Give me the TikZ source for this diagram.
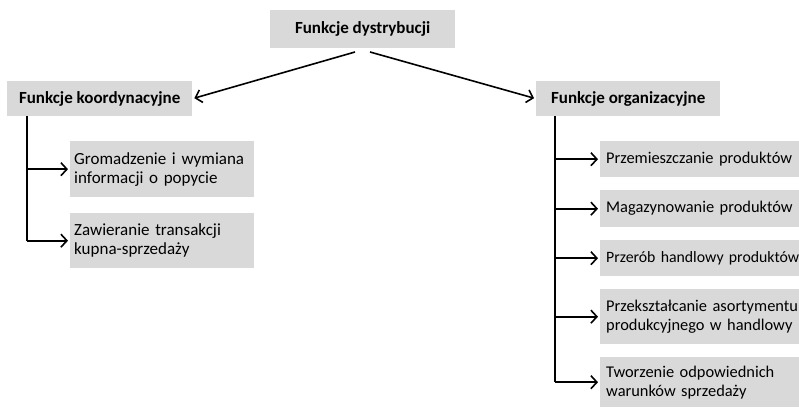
\documentclass[tikz,border=0pt]{standalone}
\usepackage{fontspec}
\setmainfont{Carlito}
\usetikzlibrary{arrows.meta}
\definecolor{boxgray}{HTML}{D9D9D9}
\hyphenpenalty=10000
\exhyphenpenalty=10000
\tikzset{
  box/.style={fill=boxgray, draw=none, anchor=north west, inner sep=0pt, font=\fontsize{17}{19}\selectfont},
  headbox/.style={box, font=\fontsize{17}{19}\selectfont\bfseries, align=center},
  childbox/.style={box, align=left, text width=#1},
  rchild/.style={childbox=240pt, inner xsep=6pt, font=\fontsize{16.4}{19}\selectfont},
  arr/.style={draw=black, line width=1.6pt, -{Straight Barb[length=6pt,width=13pt,line width=1.6pt]}},
  trunk/.style={draw=black, line width=1.6pt}
}
\begin{document}
\begin{tikzpicture}[x=1pt,y=-1pt]
\useasboundingbox (0,0) rectangle (799,407);
\clip (0,0) rectangle (799,407);
% headers
\node[headbox, minimum width=185pt, minimum height=38pt] (top) at (270,10) {Funkcje dystrybucji};
\node[headbox, minimum width=185pt, minimum height=35pt] (lk) at (7,81) {Funkcje koordynacyjne};
\node[headbox, minimum width=184pt, minimum height=35pt] (ro) at (536,81) {Funkcje organizacyjne};
% left children
\node[childbox=176pt, minimum height=56pt, inner xsep=4pt] (c1) at (70,141) {Gromadzenie i wymiana\\informacji o popycie};
\node[childbox=176pt, minimum height=55pt, inner xsep=4pt] (c2) at (70,213) {Zawieranie transakcji\\kupna-sprzedaży};
% right children
\node[rchild, minimum height=36pt] (r1) at (600,141) {Przemieszczanie produktów};
\node[rchild, minimum height=37pt] (r2) at (600,190) {Magazynowanie produktów};
\node[rchild, minimum height=36pt, font=\fontsize{15.8}{19}\selectfont] (r3) at (600,240) {Przerób handlowy produktów};
\node[rchild, minimum height=55pt] (r4) at (600,289) {Przekształcanie asortymentu\\produkcyjnego w handlowy};
\node[rchild, minimum height=50pt] (r5) at (600,357) {Tworzenie odpowiednich\\warunków sprzedaży};
% top arrows
\coordinate (tl) at (355,52);
\coordinate (tr) at (370,52);
\draw[arr, shorten >=2pt] (tl) -- (lk.east);
\draw[arr, shorten >=2pt] (tr) -- (ro.west);
% left trunk
\coordinate (lx) at (27,0);
\draw[trunk] (lk.south -| lx) -- (c2.west -| lx);
\draw[arr, shorten >=2pt] (c1.west -| lx) -- (c1.west);
\draw[arr, shorten >=2pt] (c2.west -| lx) -- (c2.west);
% right trunk
\coordinate (rx) at (555,0);
\draw[trunk] (ro.south -| rx) -- (r5.west -| rx);
\foreach \n in {r1,r2,r3,r4,r5}
  \draw[arr, shorten >=2pt] (\n.west -| rx) -- (\n.west);
\end{tikzpicture}
\end{document}
